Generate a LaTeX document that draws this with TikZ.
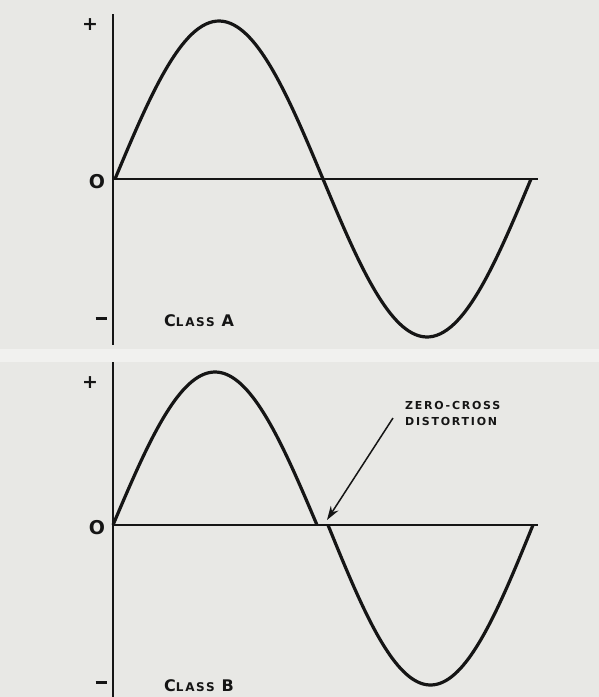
\documentclass[tikz,border=0pt]{standalone}
\usepackage{fontspec}
\setmainfont{DejaVu Sans}
\usetikzlibrary{arrows.meta}
\definecolor{bg}{HTML}{E8E8E5}
\definecolor{band}{HTML}{F1F1EF}
\definecolor{ink}{HTML}{151515}
\tikzset{
  axis/.style={ink, line width=1.6pt},
  wave/.style={ink, line width=3.2pt, line join=round},
  sign/.style={ink, font=\bfseries\fontsize{19}{19}\selectfont, inner sep=0pt},
  caption/.style={ink, inner sep=0pt, anchor=west},
  note/.style={ink, inner sep=0pt, align=left, font=\bfseries\fontsize{11}{16}\selectfont\addfontfeatures{LetterSpace=16}},
  pointer/.style={ink, line width=1.5pt, -{Stealth[length=14pt,width=9pt]}}
}
\newcommand{\capsA}[1]{{\bfseries\fontsize{16}{16}\selectfont\addfontfeatures{LetterSpace=8}#1}}
\newcommand{\capsB}[1]{{\bfseries\fontsize{12}{12}\selectfont\addfontfeatures{LetterSpace=14}#1}}
\begin{document}
\begin{tikzpicture}[x=1pt,y=-1pt]
\useasboundingbox (0,0) rectangle (599,697);
\fill[bg] (0,0) rectangle (599,697);
\fill[band] (0,349) rectangle (599,362);
% ---------- Class A ----------
\draw[axis] (113,14) -- (113,345);
\draw[axis] (113,179) -- (538,179);
\draw[wave] plot[domain=115:531, samples=120, smooth] (\x, {179 - 158*sin(0.865385*(\x-115))});
\node[sign] (pA) at (90,25) {+};
\node[sign] (oA) at (97,182) {O};
\node[sign] (mA) at (101,318) {\rule{11pt}{3pt}};
\node[caption] (cA) at (164,321) {\capsA{C}\capsB{LASS}\hspace{7pt}\capsA{A}};
% ---------- Class B ----------
\draw[axis] (113,362) -- (113,697);
\draw[axis] (113,525) -- (538,525);
\draw[wave] plot[domain=113:317, samples=80, smooth] (\x, {525 - 153*sin(0.882353*(\x-113))});
\draw[wave] plot[domain=328:533, samples=80, smooth] (\x, {525 + 160*sin(0.878049*(\x-328))});
\node[sign] (pB) at (90,383) {+};
\node[sign] (oB) at (97,528) {O};
\node[sign] (mB) at (101,682) {\rule{11pt}{3pt}};
\node[caption] (cB) at (164,686) {\capsA{C}\capsB{LASS}\hspace{7pt}\capsA{B}};
\node[note, anchor=west] (zc) at (405,413) {ZERO-CROSS\\DISTORTION};
\coordinate (tail) at (393,418);
\coordinate (gap) at (327,520);
\draw[pointer] (tail) -- (gap);
\end{tikzpicture}
\end{document}
